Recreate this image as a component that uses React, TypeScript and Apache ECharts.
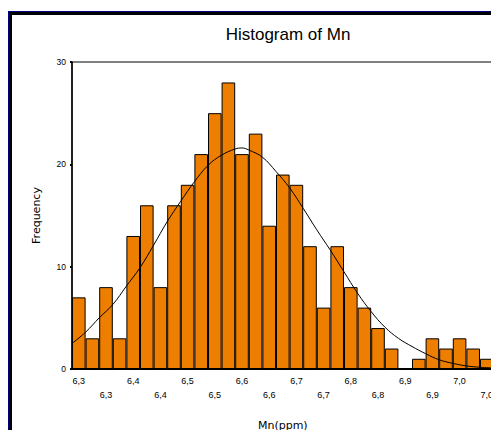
import React, { useEffect, useRef } from "react";
import * as echarts from "echarts";

const counts = [7, 3, 8, 3, 13, 16, 8, 16, 18, 21, 25, 28, 21, 23, 14, 19, 18, 12, 6, 12, 8, 6, 4, 2, 0, 1, 3, 2, 3, 2, 1];
const tickLabels = ["6,3", "6,3", "6,4", "6,4", "6,5", "6,5", "6,6", "6,6", "6,7", "6,7", "6,8", "6,8", "6,9", "6,9", "7,0", "7,0"];
const yTicks = [0, 10, 20, 30];
const curvePos = [0, 1, 2, 3, 4, 5, 6, 7, 8, 9, 10, 11, 12, 12.5, 13, 14, 15, 16, 17, 18, 19, 20, 21, 22, 23, 24, 25, 26, 27, 28, 29, 30, 31];
const curveFreq = [2.5, 3.6, 5.0, 6.3, 8.1, 9.9, 12.1, 14.4, 16.4, 18.3, 19.9, 20.9, 21.5, 21.6, 21.4, 20.7, 19.3, 17.7, 15.7, 13.6, 11.6, 9.5, 7.4, 5.6, 4.1, 3.0, 2.2, 1.5, 0.9, 0.55, 0.3, 0.17, 0.1];

const TITLE = "Histogram of Mn";
const X_NAME = "Mn(ppm)";
const Y_NAME = "Frequency";

export default function App() {
  const ref = useRef<HTMLDivElement>(null);
  useEffect(() => {
    if (!ref.current) return;
    const chart = echarts.init(ref.current, undefined, { renderer: "svg" });
    const bandW = 13.6;
    chart.setOption({
      animation: false,
      backgroundColor: "#ffffff",
      title: {
        text: TITLE,
        left: 283,
        top: 21,
        textAlign: "center",
        textStyle: {
          fontFamily: "'Comic Sans MS', 'Liberation Sans', sans-serif",
          fontSize: 17,
          fontWeight: "normal",
          color: "#000",
        },
      },
      graphic: [
        { type: "rect", shape: { x: 8, y: 11, width: 700, height: 1 }, style: { fill: "#00007a" }, silent: true },
        { type: "rect", shape: { x: 8, y: 11, width: 1, height: 500 }, style: { fill: "#00007a" }, silent: true },
        { type: "rect", shape: { x: 9, y: 12, width: 700, height: 3 }, style: { fill: "#000" }, silent: true },
        { type: "rect", shape: { x: 9, y: 12, width: 3, height: 500 }, style: { fill: "#000" }, silent: true },
      ],
      grid: {
        left: 72,
        top: 62,
        width: bandW * counts.length,
        height: 307,
        show: true,
        borderColor: "#000",
        borderWidth: 1,
        backgroundColor: "transparent",
        containLabel: false,
        outerBoundsMode: "none",
      },
      xAxis: [
        {
          type: "category",
          data: counts.map((_, i) => String(i)),
          boundaryGap: true,
          name: X_NAME,
          nameLocation: "middle",
          nameGap: 51,
          nameTextStyle: { fontFamily: "'DejaVu Sans', sans-serif", fontSize: 11, color: "#000" },
          axisLine: { lineStyle: { color: "#000", width: 2 } },
          axisTick: { alignWithLabel: true, interval: 1, length: 2, lineStyle: { color: "#000", width: 2 } },
          axisLabel: {
            interval: 1,
            margin: 5,
            fontSize: 9,
            lineHeight: 14,
            color: "#000",
            fontFamily: "'Liberation Sans', Arial, sans-serif",
            formatter: (_v: string, index: number) => {
              const lab = tickLabels[index / 2] ?? "";
              return index % 4 === 2 ? "\n" + lab : lab;
            },
          },
          splitLine: { show: false },
        },
        {
          type: "value",
          min: 0,
          max: counts.length,
          show: false,
          gridIndex: 0,
        },
      ],
      yAxis: {
        type: "value",
        min: yTicks[0],
        max: yTicks[yTicks.length - 1],
        interval: 10,
        name: Y_NAME,
        nameLocation: "middle",
        nameGap: 30,
        nameTextStyle: { fontFamily: "'DejaVu Sans', sans-serif", fontSize: 11, color: "#000" },
        axisLine: { show: true, lineStyle: { color: "#000", width: 1.5 } },
        axisTick: { show: true, length: 2, lineStyle: { color: "#000", width: 2 } },
        axisLabel: { fontSize: 8.5, margin: 6, color: "#000", fontFamily: "'Liberation Sans', Arial, sans-serif" },
        splitLine: { show: false },
      },
      series: [
        {
          type: "bar",
          data: counts,
          xAxisIndex: 0,
          barCategoryGap: "0%",
          itemStyle: { color: "#EE7E00", borderColor: "#000", borderWidth: 1 },
          z: 2,
        },
        {
          type: "line",
          xAxisIndex: 1,
          data: curvePos.map((p, i) => [p, curveFreq[i]]),
          smooth: 0.4,
          showSymbol: false,
          symbol: "none",
          lineStyle: { color: "#000", width: 1 },
          clip: true,
          z: 3,
        },
      ],
    });
    return () => chart.dispose();
  }, []);
  return (
    <div style={{ position: "fixed", left: 0, top: 0, width: 491, height: 430, overflow: "hidden", background: "#fff" }}>
      <div ref={ref} style={{ width: 560, height: 430 }} />
    </div>
  );
}
